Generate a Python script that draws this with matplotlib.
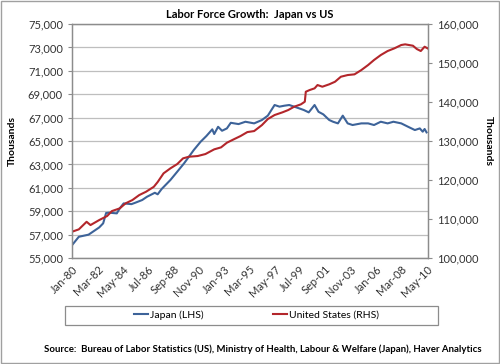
import matplotlib
matplotlib.use("Agg")
import matplotlib.pyplot as plt
import matplotlib.dates as mdates
from matplotlib.patches import Rectangle
import pandas as pd

# values (thousands)
japan_dates = ["1980-01", "1980-08", "1981-06", "1982-05", "1982-09", "1982-12",
               "1983-03", "1983-11", "1984-02", "1984-06", "1985-02", "1985-06",
               "1986-01", "1986-06", "1987-02", "1987-05", "1987-09", "1988-06",
               "1989-01", "1989-08", "1990-01", "1990-06", "1991-01", "1991-07",
               "1992-01", "1992-03", "1992-07", "1992-11", "1993-04", "1993-08",
               "1994-04", "1994-11", "1995-08", "1996-04", "1996-10", "1997-05",
               "1997-10", "1998-03", "1998-08", "1999-01", "1999-06", "1999-11",
               "2000-04", "2000-10", "2001-02", "2001-07", "2002-01", "2002-05",
               "2002-10", "2003-03", "2003-08", "2004-01", "2004-10", "2005-05",
               "2005-11", "2006-06", "2007-01", "2007-07", "2008-03", "2008-10",
               "2009-05", "2009-10", "2010-01", "2010-03", "2010-05"]
japan_vals = [56100, 56820, 57000, 57620, 57970, 58850,
              58880, 58820, 59250, 59670, 59610, 59730,
              59960, 60240, 60580, 60450, 60900, 61670,
              62380, 63090, 63660, 64230, 64940, 65430,
              66000, 65600, 66220, 65880, 66080, 66560,
              66450, 66650, 66510, 66800, 67170, 68080,
              67940, 68020, 68080, 67940, 67800, 67650,
              67450, 68080, 67500, 67280, 66800, 66650,
              66510, 67170, 66510, 66370, 66510, 66510,
              66370, 66650, 66510, 66650, 66510, 66220,
              65940, 66080, 65800, 66030, 65740]

us_dates = ["1980-01", "1980-08", "1981-04", "1981-08", "1982-05", "1983-01",
            "1983-06", "1984-02", "1984-08", "1985-03", "1985-10", "1986-05",
            "1987-01", "1987-05", "1987-11", "1988-06", "1989-01", "1989-07",
            "1990-01", "1990-10", "1991-06", "1992-03", "1992-10", "1993-04",
            "1993-11", "1994-06", "1995-01", "1995-08", "1996-04", "1996-10",
            "1997-05", "1998-01", "1998-07", "1999-01", "1999-08", "1999-12",
            "2000-01", "2000-05", "2000-10", "2001-01", "2001-06", "2002-01",
            "2002-07", "2003-01", "2003-08", "2004-03", "2004-10", "2005-05",
            "2005-11", "2006-06", "2007-01", "2007-08", "2008-03", "2008-07",
            "2009-03", "2009-07", "2009-11", "2010-03", "2010-06"]
us_vals = [106750, 107360, 109300, 108460, 109750, 110770,
           112050, 112740, 114030, 114870, 116150, 117000,
           118280, 119500, 121720, 123000, 124100, 125560,
           125980, 126160, 126670, 127870, 128380, 129570,
           130440, 131280, 132300, 132560, 134100, 135640,
           136670, 137360, 137950, 138800, 139410, 140080,
           142640, 143080, 143510, 144360, 143930, 144540,
           145200, 146490, 146920, 147100, 148200, 149490,
           150770, 152050, 153080, 153770, 154620, 154790,
           154440, 153590, 153080, 154180, 153770]

plt.rcParams['font.family'] = ['Lato', 'DejaVu Sans']
plt.rcParams['font.size'] = 8

japan_x = pd.to_datetime(japan_dates)
us_x = pd.to_datetime(us_dates)

fig = plt.figure(figsize=(5, 3.64), dpi=100)
ax = fig.add_axes([0.144, 0.291, 0.712, 0.643])
ax2 = ax.twinx()

ax.plot(japan_x, japan_vals, color='#3D6399', lw=1.5, label='Japan (LHS)')
ax2.plot(us_x, us_vals, color='#B3262B', lw=1.5, label='United States (RHS)')

ax.set_ylim(55000, 75000)
ax.set_yticks(range(55000, 75001, 2000))
ax2.set_ylim(100000, 160000)
ax2.set_yticks(range(100000, 160001, 10000))
ax.yaxis.set_major_formatter(matplotlib.ticker.StrMethodFormatter('{x:,.0f}'))
ax2.yaxis.set_major_formatter(matplotlib.ticker.StrMethodFormatter('{x:,.0f}'))

ticks = pd.date_range("1980-01-01", "2010-05-01", freq="26MS")
ax.set_xlim(pd.Timestamp("1980-01-01"), pd.Timestamp("2010-06-15"))
ax.set_xticks(ticks)
ax.xaxis.set_major_formatter(mdates.DateFormatter('%b-%y'))
plt.setp(ax.get_xticklabels(), rotation=45, ha='right', rotation_mode='anchor')

ax.grid(axis='y', color='#BEBEBE', lw=0.9)
ax.set_axisbelow(True)
for a in (ax, ax2):
    for s in a.spines.values():
        s.set_color('#8C8C8C')
        s.set_linewidth(0.9)
    a.tick_params(colors='#8C8C8C', labelcolor='#333333', length=3, width=0.8)
ax.tick_params(axis='x', length=0, pad=4)

ax.set_ylabel('Thousands', fontweight='bold', fontsize=7.5, labelpad=8)
ax2.set_ylabel('Thousands', fontweight='bold', fontsize=7.5, rotation=270, labelpad=10)

fig.suptitle('Labor Force Growth:  Japan vs US', fontweight='bold', fontsize=8, x=0.5, y=0.975)

# legend box
fig.patches.append(Rectangle((0.13, 0.107), 0.746, 0.053, transform=fig.transFigure,
                             fill=False, edgecolor='#8C8C8C', lw=0.9))
h1, l1 = ax.get_legend_handles_labels()
h2, l2 = ax2.get_legend_handles_labels()
fig.legend(h1 + h2, l1 + l2, ncol=2, frameon=False, loc='center',
           bbox_to_anchor=(0.513, 0.134), handlelength=1.4, handletextpad=0.2,
           columnspacing=6.6, fontsize=7.5)

fig.text(0.525, 0.04, 'Source:  Bureau of Labor Statistics (US), Ministry of Health, '
         'Labour & Welfare (Japan), Haver Analytics',
         ha='center', va='center', fontweight='bold', fontsize=6.9)

# outer border
fig.patches.append(Rectangle((0.002, 0.003), 0.996, 0.994, transform=fig.transFigure,
                             fill=False, edgecolor='#A0A0A0', lw=1))

fig.savefig('out.png', dpi=100)
